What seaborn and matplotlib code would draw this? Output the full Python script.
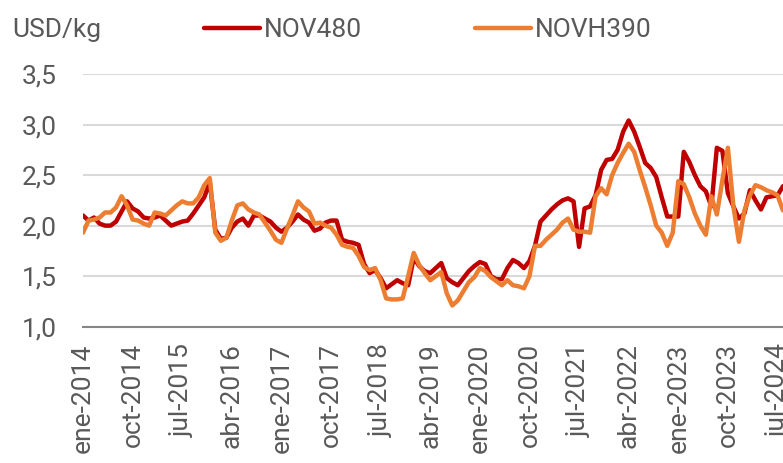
import pandas as pd
import matplotlib
matplotlib.use('Agg')
import matplotlib.pyplot as plt
import seaborn as sns

# precios mensuales, ene-2014 .. ago-2024 (USD/kg)
nov480 = [2.10, 2.05, 2.08, 2.02, 2.00, 2.00, 2.04, 2.14, 2.24, 2.17,
          2.14, 2.08, 2.07, 2.08, 2.10, 2.05, 2.00, 2.02, 2.04, 2.05,
          2.12, 2.20, 2.28, 2.43, 1.96, 1.87, 1.88, 1.98, 2.04, 2.07,
          2.00, 2.10, 2.10, 2.07, 2.04, 1.98, 1.94, 1.98, 2.04, 2.11,
          2.06, 2.03, 1.95, 1.97, 2.03, 2.05, 2.05, 1.86, 1.84, 1.83,
          1.81, 1.62, 1.53, 1.56, 1.48, 1.38, 1.42, 1.46, 1.43, 1.41,
          1.68, 1.60, 1.55, 1.53, 1.58, 1.63, 1.48, 1.44, 1.41, 1.48,
          1.55, 1.60, 1.64, 1.62, 1.50, 1.47, 1.47, 1.58, 1.66, 1.63,
          1.58, 1.65, 1.80, 2.04, 2.10, 2.16, 2.21, 2.25, 2.27, 2.24,
          1.79, 2.17, 2.19, 2.30, 2.55, 2.65, 2.66, 2.75, 2.93, 3.04,
          2.93, 2.78, 2.62, 2.57, 2.48, 2.28, 2.09, 2.09, 2.09, 2.73,
          2.63, 2.50, 2.39, 2.34, 2.19, 2.77, 2.74, 2.32, 2.19, 2.07,
          2.12, 2.35, 2.25, 2.16, 2.28, 2.29, 2.30, 2.39]
novh390 = [1.93, 2.05, 2.06, 2.08, 2.13, 2.13, 2.18, 2.29, 2.20, 2.06,
           2.05, 2.02, 2.00, 2.13, 2.12, 2.10, 2.15, 2.20, 2.24, 2.22,
           2.22, 2.28, 2.40, 2.47, 1.93, 1.85, 1.88, 2.05, 2.20, 2.22,
           2.16, 2.13, 2.11, 2.03, 1.95, 1.86, 1.83, 1.97, 2.10, 2.24,
           2.18, 2.14, 2.02, 2.03, 2.00, 1.98, 1.91, 1.81, 1.79, 1.78,
           1.70, 1.59, 1.56, 1.58, 1.46, 1.28, 1.27, 1.27, 1.28, 1.50,
           1.73, 1.61, 1.53, 1.46, 1.50, 1.54, 1.33, 1.21, 1.26, 1.35,
           1.44, 1.49, 1.58, 1.55, 1.49, 1.45, 1.41, 1.46, 1.41, 1.40,
           1.38, 1.50, 1.80, 1.80, 1.86, 1.91, 1.96, 2.03, 2.07, 1.96,
           1.94, 1.94, 1.93, 2.29, 2.37, 2.31, 2.50, 2.62, 2.72, 2.81,
           2.73, 2.55, 2.38, 2.20, 2.00, 1.93, 1.80, 1.93, 2.44, 2.41,
           2.28, 2.12, 2.00, 1.91, 2.29, 2.11, 2.45, 2.77, 2.19, 1.84,
           2.15, 2.30, 2.40, 2.38, 2.35, 2.33, 2.30, 2.15]
meses = ['ene', 'feb', 'mar', 'abr', 'may', 'jun',
         'jul', 'ago', 'sep', 'oct', 'nov', 'dic']
start_year = 2014

n = len(nov480)
idx = list(range(n))
df = pd.DataFrame({'mes': idx * 2,
                   'precio': nov480 + novh390,
                   'serie': ['NOV480'] * n + ['NOVH390'] * n})

sns.set_theme(style='white')
plt.rcParams['font.family'] = ['Roboto', 'DejaVu Sans']
gris = '#595959'

fig = plt.figure(figsize=(7.83, 4.63), dpi=100)
ax = fig.add_axes([83 / 783, 1 - 326.7 / 463, 1 - 83 / 783, (326.7 - 74) / 463])
sns.lineplot(data=df, x='mes', y='precio', hue='serie',
             palette={'NOV480': '#C00000', 'NOVH390': '#ED7D31'},
             linewidth=3.2, ax=ax, legend=False)

ax.set_ylim(1.0, 3.5)
ax.set_xlim(0, n - 1)
yt = [1.0, 1.5, 2.0, 2.5, 3.0, 3.5]
ax.set_yticks(yt)
ax.set_yticklabels([f'{v:.1f}'.replace('.', ',') for v in yt])
xt = list(range(0, n, 9))
ax.set_xticks(xt)
ax.set_xticklabels([f'{meses[m % 12]}-{start_year + m // 12}' for m in xt], rotation=90)
ax.tick_params(axis='y', length=0, pad=19, labelsize=19, labelcolor=gris)
ax.tick_params(axis='x', length=0, pad=12, labelsize=19, labelcolor=gris)
ax.set_xlabel('')
ax.set_ylabel('')
ax.grid(axis='y', color='#d9d9d9', linewidth=1.5)
ax.grid(axis='x', visible=False)
for s in ['top', 'right', 'left']:
    ax.spines[s].set_visible(False)
ax.spines['bottom'].set_color('#868686')
ax.spines['bottom'].set_linewidth(1.5)
ax.set_clip_on(True)

fig.text(12 / 783, 1 - 30 / 463, 'USD/kg', fontsize=19, color=gris, va='center', ha='left')
h1, = ax.plot([], [], color='#C00000', linewidth=3.2, solid_capstyle='round')
h2, = ax.plot([], [], color='#ED7D31', linewidth=3.2, solid_capstyle='round')
fig.legend([h1, h2], ['NOV480', 'NOVH390'], loc='center', ncol=2,
           bbox_to_anchor=(428 / 783, 1 - 30 / 463), frameon=False,
           fontsize=19, labelcolor=gris, handlelength=2.1, handletextpad=0.15,
           columnspacing=4.3, borderpad=0)

fig.savefig('out.png', dpi=100)
